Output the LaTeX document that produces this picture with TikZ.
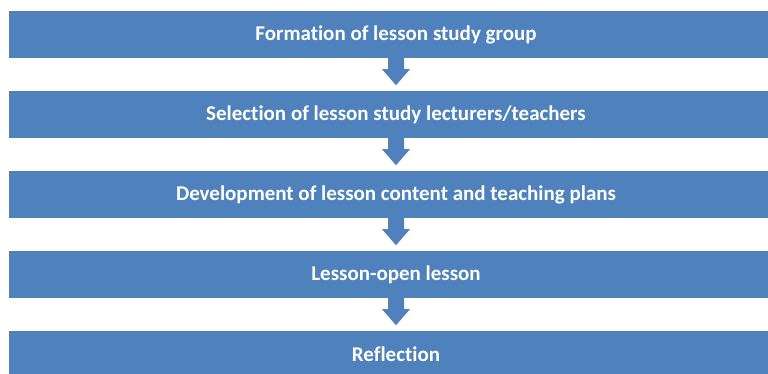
\documentclass[tikz,border=0pt]{standalone}
\usepackage{fontspec}
\setmainfont{Carlito}[Ligatures=NoCommon]
\definecolor{stepblue}{HTML}{4F81BD}
\tikzset{
  stage/.style={rectangle,fill=stepblue,text=white,font=\fontsize{21}{25}\selectfont\bfseries,
    minimum width=774pt,minimum height=47pt,inner sep=0pt},
  flow/.style={fill=stepblue}
}
\newcommand{\blockdown}[1]{%
  \fill[flow] (#1.south) ++(-8,0) -- ++(0,11) -- ++(-6,0) -- ++(14,16) -- ++(14,-16) -- ++(-6,0) -- ++(0,-11) -- cycle;}

\begin{document}
\begin{tikzpicture}[x=1pt,y=-1pt]
    \useasboundingbox (0,0) rectangle (768,374);
    \clip (0,0) rectangle (768,374);
    \node[stage] (S1) at (396,34.5) {Formation of lesson study group};
    \node[stage] (S2) at (396,114.5) {Selection of lesson study lecturers/teachers};
    \node[stage] (S3) at (396,194.5) {Development of lesson content and teaching plans};
    \node[stage] (S4) at (396,274.5) {Lesson-open lesson};
    \node[stage] (S5) at (396,354.5) {Reflection};
    \foreach \s in {S1,S2,S3,S4} {\blockdown{\s}}
  \end{tikzpicture}
\end{document}
